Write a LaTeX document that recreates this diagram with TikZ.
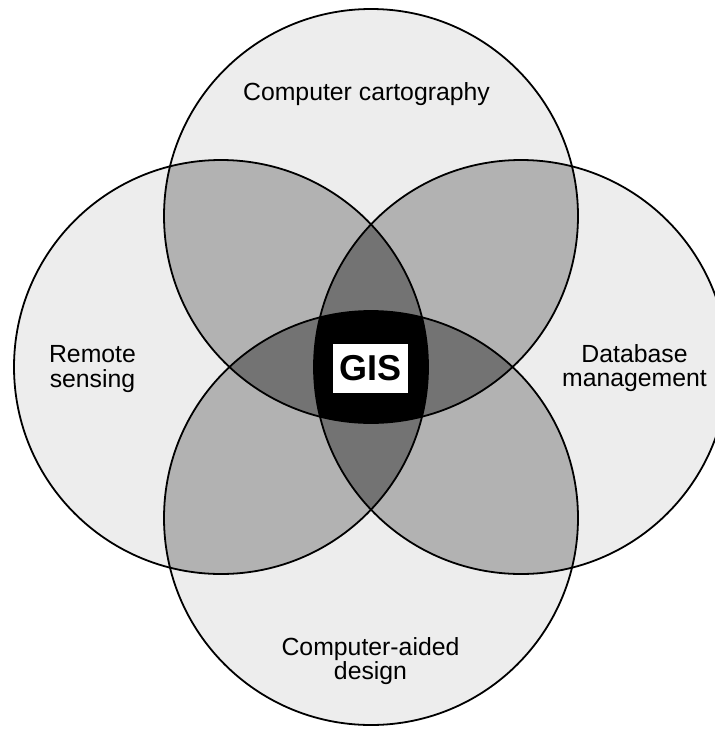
\documentclass[tikz,border=0pt]{standalone}
\usepackage{fontspec}
\setmainfont{Liberation Sans}
\begin{document}
\begin{tikzpicture}[x=1pt,y=-1pt,
  single/.style={fill=black!7},
  double/.style={fill=black!30},
  triple/.style={fill=black!55},
  quad/.style={fill=black},
  rim/.style={draw=black,line width=1.8pt},
  lbl/.style={font=\fontsize{24.8}{24.5}\selectfont,align=center,inner sep=0pt,text=black},
  gisbox/.style={fill=white,inner sep=0pt,minimum width=75pt,minimum height=49pt,font=\fontsize{36}{40}\selectfont\bfseries}
]
\useasboundingbox[fill=white] (0,0) rectangle (715,729);
\def\R{207pt}
\coordinate (T) at (371,216);
\coordinate (B) at (371,518);
\coordinate (L) at (221,367);
\coordinate (Rt) at (521,367);
% single
\foreach \c in {T,B,L,Rt} {\fill[single] (\c) circle[radius=\R];}
% pairs
\begin{scope}\clip (T) circle[radius=\R];
  \fill[double] (L) circle[radius=\R];
  \fill[double] (Rt) circle[radius=\R];
  \fill[double] (B) circle[radius=\R];
\end{scope}
\begin{scope}\clip (L) circle[radius=\R];
  \fill[double] (Rt) circle[radius=\R];
  \fill[double] (B) circle[radius=\R];
\end{scope}
\begin{scope}\clip (Rt) circle[radius=\R];
  \fill[double] (B) circle[radius=\R];
\end{scope}
% triples
\begin{scope}\clip (T) circle[radius=\R];\clip (L) circle[radius=\R];
  \fill[triple] (Rt) circle[radius=\R];
  \fill[triple] (B) circle[radius=\R];
\end{scope}
\begin{scope}\clip (T) circle[radius=\R];\clip (Rt) circle[radius=\R];
  \fill[triple] (B) circle[radius=\R];
\end{scope}
\begin{scope}\clip (L) circle[radius=\R];\clip (Rt) circle[radius=\R];
  \fill[triple] (B) circle[radius=\R];
\end{scope}
% quadruple
\begin{scope}\clip (T) circle[radius=\R];\clip (L) circle[radius=\R];\clip (Rt) circle[radius=\R];
  \fill[quad] (B) circle[radius=\R];
\end{scope}
% outlines
\foreach \c in {T,B,L,Rt} {\draw[rim] (\c) circle[radius=\R];}
% labels
\node[lbl,anchor=base] (cc) at (366.5,100) {Computer cartography};
\node[lbl] (rs) at (92.5,369) {Remote\\sensing};
\node[lbl] (dm) at (634.5,368) {Database\\management};
\node[lbl] (cad) at (370.5,661) {Computer-aided\\design};
\node[gisbox] (gis) at (370.5,368.5) {GIS};
\end{tikzpicture}
\end{document}
